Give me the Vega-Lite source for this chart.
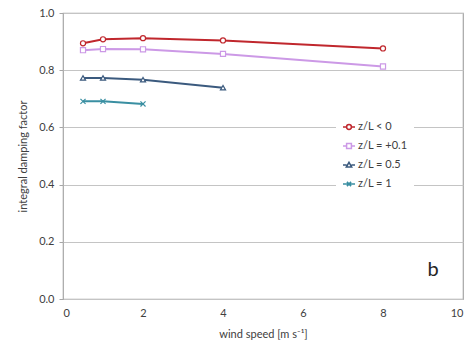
{
  "$schema": "https://vega.github.io/schema/vega-lite/v6.json",
  "width": 400,
  "height": 286,
  "autosize": {"type": "none"},
  "padding": {"left": 63, "top": 13, "right": 12, "bottom": 57},
  "background": "white",
  "config": {
    "font": "Lato",
    "view": {"stroke": "#a6a6a6", "strokeWidth": 1.2},
    "axis": {"labelFont": "Lato", "titleFont": "Lato", "labelColor": "#404040", "titleColor": "#404040", "labelFontSize": 11, "titleFontSize": 11, "titleFontWeight": "normal", "domain": false}
  },
  "datasets": {
    "pts": [
      {"u": 0.5, "f": 0.894, "series": "z/L < 0"},
      {"u": 1, "f": 0.908, "series": "z/L < 0"},
      {"u": 2, "f": 0.912, "series": "z/L < 0"},
      {"u": 4, "f": 0.904, "series": "z/L < 0"},
      {"u": 8, "f": 0.876, "series": "z/L < 0"},
      {"u": 0.5, "f": 0.870, "series": "z/L = +0.1"},
      {"u": 1, "f": 0.874, "series": "z/L = +0.1"},
      {"u": 2, "f": 0.873, "series": "z/L = +0.1"},
      {"u": 4, "f": 0.857, "series": "z/L = +0.1"},
      {"u": 8, "f": 0.813, "series": "z/L = +0.1"},
      {"u": 0.5, "f": 0.773, "series": "z/L = 0.5"},
      {"u": 1, "f": 0.773, "series": "z/L = 0.5"},
      {"u": 2, "f": 0.767, "series": "z/L = 0.5"},
      {"u": 4, "f": 0.739, "series": "z/L = 0.5"},
      {"u": 0.5, "f": 0.691, "series": "z/L = 1"},
      {"u": 1, "f": 0.691, "series": "z/L = 1"},
      {"u": 2, "f": 0.682, "series": "z/L = 1"}
    ],
    "lab": [{"u": 9.25, "f": 0.1, "t": "b"}]
  },
  "resolve": {"scale": {"shape": "independent"}, "legend": {"shape": "independent", "color": "independent"}},
  "layer": [
    {
      "data": {"name": "pts"},
      "mark": {"type": "line", "strokeWidth": 2},
      "encoding": {
        "x": {"field": "u", "type": "quantitative", "scale": {"domain": [0, 10]}, "axis": {"values": [0, 2, 4, 6, 8, 10], "grid": false, "ticks": false, "labelPadding": 8, "title": "wind speed [m s⁻¹]", "titlePadding": 10}},
        "y": {"field": "f", "type": "quantitative", "scale": {"domain": [0, 1]}, "axis": {"values": [0, 0.2, 0.4, 0.6, 0.8, 1.0], "format": ".1f", "gridColor": "#c4c4c4", "gridWidth": 1.2, "tickColor": "#a6a6a6", "tickSize": 4, "labelPadding": 5, "title": "integral damping factor", "titlePadding": 10}},
        "color": {"field": "series", "type": "nominal", "scale": {"domain": ["z/L < 0", "z/L = +0.1", "z/L = 0.5", "z/L = 1"], "range": ["#c0272d", "#cc99e6", "#3b5a7e", "#3a8fa2"]}, "legend": null},
        "detail": {"field": "series"}
      }
    },
    {
      "data": {"name": "pts"},
      "mark": {"type": "point", "filled": false, "fill": "white", "fillOpacity": 1, "opacity": 1, "size": 26, "strokeWidth": 1.2},
      "encoding": {
        "x": {"field": "u", "type": "quantitative"},
        "y": {"field": "f", "type": "quantitative"},
        "color": {"field": "series", "type": "nominal", "legend": null},
        "shape": {"field": "series", "type": "nominal", "scale": {"domain": ["z/L < 0", "z/L = +0.1", "z/L = 0.5", "z/L = 1"], "range": ["circle", "square", "triangle-up", "M-1,-1L1,1M-1,1L1,-1"]}, "legend": null}
      }
    },
    {
      "data": {"name": "pts"},
      "transform": [{"filter": "datum.u < 0"}],
      "mark": {"type": "point", "filled": false, "opacity": 1, "strokeWidth": 1.5},
      "encoding": {
        "x": {"field": "u", "type": "quantitative"},
        "y": {"field": "f", "type": "quantitative"},
        "color": {"field": "series", "type": "nominal", "legend": {"title": null, "orient": "none", "legendX": 273, "legendY": 101, "padding": 6, "fillColor": "white", "symbolSize": 144, "symbolStrokeWidth": 1.5, "labelFont": "Lato", "labelFontSize": 11, "labelColor": "#404040", "rowPadding": 6, "labelOffset": 2}},
        "shape": {"field": "series", "type": "nominal", "scale": {"domain": ["z/L < 0", "z/L = +0.1", "z/L = 0.5", "z/L = 1"], "range": [
          "M-1,0H-0.4M0.4,0H1M0.4,0A0.4,0.4 0 1 1 -0.4,0A0.4,0.4 0 1 1 0.4,0",
          "M-1,0H-0.4M0.4,0H1M-0.4,-0.4H0.4V0.4H-0.4Z",
          "M-1,0H-0.4M0.4,0H1M0,-0.45L0.45,0.35H-0.45Z",
          "M-1,0H1M-0.35,-0.35L0.35,0.35M-0.35,0.35L0.35,-0.35"
        ]}, "legend": {"title": null, "orient": "none", "legendX": 273, "legendY": 101, "padding": 6, "fillColor": "white", "symbolSize": 144, "symbolStrokeWidth": 1.5, "labelFont": "Lato", "labelFontSize": 11, "labelColor": "#404040", "rowPadding": 6, "labelOffset": 2}}
      }
    },
    {
      "data": {"name": "lab"},
      "mark": {"type": "text", "fontSize": 20, "font": "Lato", "color": "#262626", "baseline": "middle", "align": "center"},
      "encoding": {
        "x": {"field": "u", "type": "quantitative"},
        "y": {"field": "f", "type": "quantitative"},
        "text": {"field": "t"}
      }
    }
  ]
}
